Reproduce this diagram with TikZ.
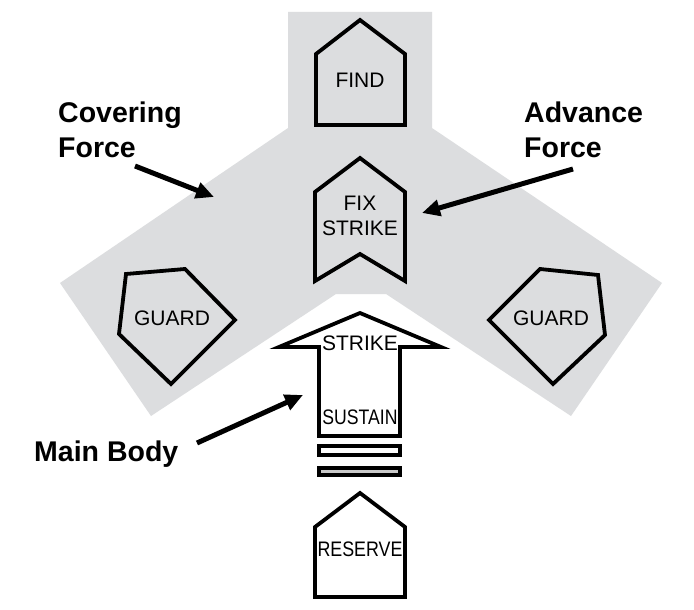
\documentclass[tikz,border=0pt]{standalone}
\usepackage{fontspec}
\usepackage{graphicx}
\setmainfont{Liberation Sans}
\usetikzlibrary{arrows.meta}

\definecolor{zonegray}{RGB}{220,221,223}
\definecolor{bargray}{RGB}{200,200,200}

\tikzset{
	unit/.style={draw, line width=3.8pt, line join=miter},
	unitlabel/.style={font=\fontsize{21}{25}\selectfont, inner sep=0pt, align=center},
	forcelabel/.style={font=\fontsize{28.5}{35}\selectfont\bfseries, inner sep=0pt, align=left},
	pointer/.style={line width=5pt, -{Triangle[length=18pt,width=16pt]}}
}

\begin{document}
\begin{tikzpicture}[x=1pt, y=-1pt]
			% page
			\fill[white]	(0,0)	rectangle	(694,610);

			% covering and advance force zone
			\fill[zonegray]	(288,12)	--	(432,12)	--	(432,128)	--	(662,283)	--	(571,416)
							--	(386,294)	--	(336,294)	--	(151,416)	--	(60,283)	--	(288,128)	--	cycle;

			% find
			\draw[unit]	(316,125)	--	(316,54)	--	(360,20)	--	(405,54)	--	(405,125)	--	cycle;
			% fix strike
			\draw[unit]	(315,281)	--	(315,192)	--	(360,158)	--	(405,192)	--	(405,281)	--	(360,254)	--	cycle;
			% guards
			\draw[unit]	(126,274)	--	(185,269)	--	(235,320)	--	(171,384)	--	(119,334)	--	cycle;
			\draw[unit]	(540,269)	--	(598,275)	--	(605,335)	--	(553,384)	--	(489,320)	--	cycle;

			% strike and sustain
			\draw[unit]	(319,436)	--	(319,347)	--	(279,347)	--	(360,313)	--	(441,347)
						--	(400,347)	--	(400,436)	--	cycle;
			\draw[unit]					(319,446)	rectangle	(400,455);
			\draw[unit, fill=bargray]	(319,468)	rectangle	(400,475);

			% reserve
			\draw[unit]	(315,597)	--	(315,527)	--	(360,493)	--	(405,527)	--	(405,597)	--	cycle;

			% unit labels
			\node[unitlabel]	(find)		at	(360,80)	{FIND};
			\node[unitlabel]	(fix)		at	(360,215.5)	{FIX\\STRIKE};
			\node[unitlabel]	(guardl)	at	(172,318)	{GUARD};
			\node[unitlabel]	(guardr)	at	(551,318)	{GUARD};
			\node[unitlabel]	(strike)	at	(360,343)	{STRIKE};
			\node[unitlabel]	(sustain)	at	(360,417)	{\scalebox{0.84}[1]{SUSTAIN}};
			\node[unitlabel]	(reserve)	at	(360,549)	{\scalebox{0.85}[1]{RESERVE}};

			% force labels
			\node[forcelabel, anchor=north west]	(cover)		at	(58,102)	{Covering\\Force};
			\node[forcelabel, anchor=north west]	(advance)	at	(524,102)	{Advance\\Force};
			\node[forcelabel, anchor=base west]		(mainbody)	at	(34,461)	{Main Body};

			% pointers
			\coordinate	(coverfrom)		at	(135,166);
			\coordinate	(covertip)		at	(214,197);
			\coordinate	(advancefrom)	at	(573,169);
			\coordinate	(advancetip)	at	(422,213);
			\coordinate	(bodyfrom)		at	(197,443);
			\coordinate	(bodytip)		at	(303,395);
			\draw[pointer]	(coverfrom)		--	(covertip);
			\draw[pointer]	(advancefrom)	--	(advancetip);
			\draw[pointer]	(bodyfrom)		--	(bodytip);
		\end{tikzpicture}
\end{document}
